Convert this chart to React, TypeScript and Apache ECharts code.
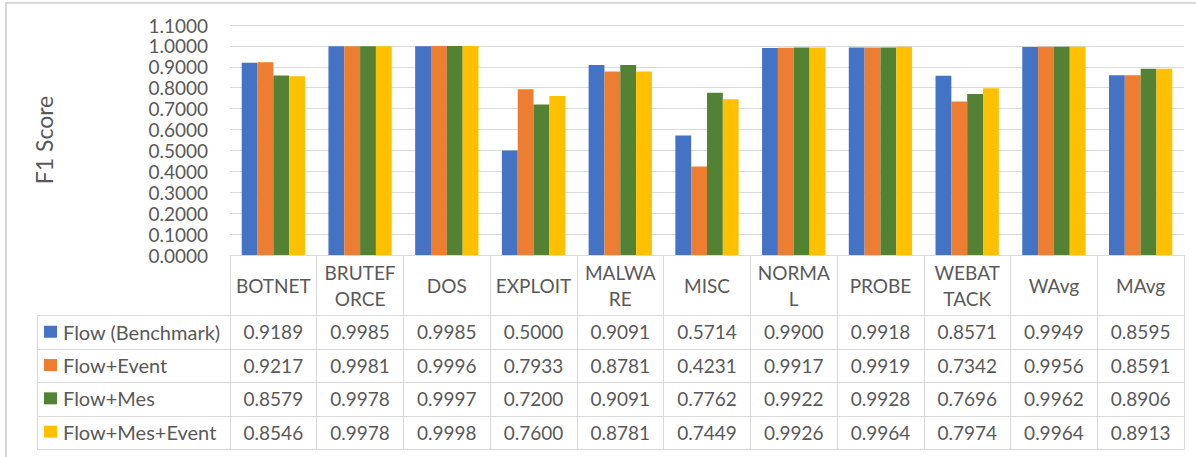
import React, { useEffect, useRef } from 'react';
import * as echarts from 'echarts';

// ---- data ----
const categories = ['BOTNET', 'BRUTEF\nORCE', 'DOS', 'EXPLOIT', 'MALWA\nRE', 'MISC', 'NORMA\nL', 'PROBE', 'WEBAT\nTACK', 'WAvg', 'MAvg'];
const seriesNames = ['Flow (Benchmark)', 'Flow+Event', 'Flow+Mes', 'Flow+Mes+Event'];
const flowBenchmark = [0.9189, 0.9985, 0.9985, 0.5, 0.9091, 0.5714, 0.99, 0.9918, 0.8571, 0.9949, 0.8595];
const flowEvent = [0.9217, 0.9981, 0.9996, 0.7933, 0.8781, 0.4231, 0.9917, 0.9919, 0.7342, 0.9956, 0.8591];
const flowMes = [0.8579, 0.9978, 0.9997, 0.72, 0.9091, 0.7762, 0.9922, 0.9928, 0.7696, 0.9962, 0.8906];
const flowMesEvent = [0.8546, 0.9978, 0.9998, 0.76, 0.8781, 0.7449, 0.9926, 0.9964, 0.7974, 0.9964, 0.8913];
const seriesColors = ['#4472C4', '#ED7D31', '#548235', '#FFC000'];

// ---- layout ----
const W = 1196;
const H = 457;
const FONT = 'Lato, "Noto Sans", sans-serif';
const TEXT = '#595959';
const LINE = '#D9D9D9';
const gridLeft = 230;
const gridRight = 1184;
const gridTop = 25;
const axisY = 255;
const tableLeft = 37;
const rowLines = [315, 348.5, 382, 415.5, 449];

export default function App() {
  const ref = useRef<HTMLDivElement>(null);

  useEffect(() => {
    if (!ref.current) return;
    const chart = echarts.init(ref.current, undefined, { renderer: 'svg' });
    const seriesData = [flowBenchmark, flowEvent, flowMes, flowMesEvent];
    const rowCenters = rowLines.slice(0, -1).map((y, i) => (y + rowLines[i + 1]) / 2);

    const valueAxes = seriesData.map((data, i) => ({
      type: 'category',
      data: categories,
      gridIndex: 0,
      position: 'bottom',
      offset: rowCenters[i] - axisY,
      axisLine: { show: false },
      axisTick: { show: false },
      splitLine: { show: false },
      axisLabel: {
        interval: 0,
        margin: 0,
        verticalAlign: 'middle',
        fontSize: 19,
        lineHeight: 20,
        color: TEXT,
        fontFamily: FONT,
        formatter: (_v: string, idx: number) => data[idx].toFixed(4),
      },
    }));

    const graphic: any[] = [];
    const hline = (x1: number, x2: number, y: number, w = 1) =>
      graphic.push({ type: 'line', silent: true, shape: { x1, y1: y, x2, y2: y }, style: { stroke: LINE, lineWidth: w } });
    const vline = (x: number, y1: number, y2: number, w = 1) =>
      graphic.push({ type: 'line', silent: true, shape: { x1: x, y1, x2: x, y2 }, style: { stroke: LINE, lineWidth: w } });
    rowLines.forEach((y) => hline(tableLeft, gridRight + 0.5, Math.round(y) + 0.5));
    vline(tableLeft + 0.5, rowLines[0], rowLines[rowLines.length - 1] + 0.5);
    // outer chart border
    hline(6, W, 3, 2);
    vline(6, 2, H, 2);

    chart.setOption({
      animation: false,
      textStyle: { fontFamily: FONT },
      color: seriesColors,
      grid: { left: gridLeft, right: W - gridRight, top: gridTop, bottom: H - axisY, containLabel: false },
      legend: {
        data: seriesNames,
        orient: 'vertical',
        left: 44,
        top: rowCenters[0] - 10,
        padding: 0,
        itemWidth: 13,
        itemHeight: 12,
        itemGap: 13.3,
        icon: 'rect',
        selectedMode: false,
        textStyle: { fontSize: 20, lineHeight: 20, color: TEXT, fontFamily: FONT, padding: [0, 0, 0, 1] },
      },
      xAxis: [
        {
          type: 'category',
          data: categories,
          gridIndex: 0,
          position: 'bottom',
          axisLine: { show: true, lineStyle: { color: LINE, width: 1 } },
          axisTick: { show: true, interval: 0, length: rowLines[rowLines.length - 1] - axisY, lineStyle: { color: LINE, width: 1 } },
          axisLabel: {
            interval: 0,
            margin: 30,
            verticalAlign: 'middle',
            fontSize: 19,
            lineHeight: 26,
            color: TEXT,
            fontFamily: FONT,
          },
        },
        ...valueAxes,
      ],
      yAxis: {
        type: 'value',
        min: 0,
        max: 1.1,
        interval: 0.1,
        name: 'F1 Score',
        nameLocation: 'middle',
        nameRotate: 90,
        nameGap: 175,
        nameTextStyle: { fontSize: 23, color: TEXT, fontFamily: FONT },
        axisLine: { show: false },
        axisTick: { show: false },
        splitLine: { show: true, lineStyle: { color: LINE, width: 1 } },
        axisLabel: {
          margin: 22,
          fontSize: 19,
          color: TEXT,
          fontFamily: FONT,
          formatter: (v: number) => v.toFixed(4),
        },
      },
      series: seriesData.map((data, i) => ({
        name: seriesNames[i],
        type: 'bar',
        data,
        xAxisIndex: 0,
        yAxisIndex: 0,
        barGap: '0%',
        barCategoryGap: '27%',
        itemStyle: { color: seriesColors[i] },
      })),
      graphic,
    });
    return () => chart.dispose();
  }, []);

  return <div ref={ref} style={{ position: 'absolute', left: 0, top: 0, width: W, height: H, background: '#fff' }} />;
}
